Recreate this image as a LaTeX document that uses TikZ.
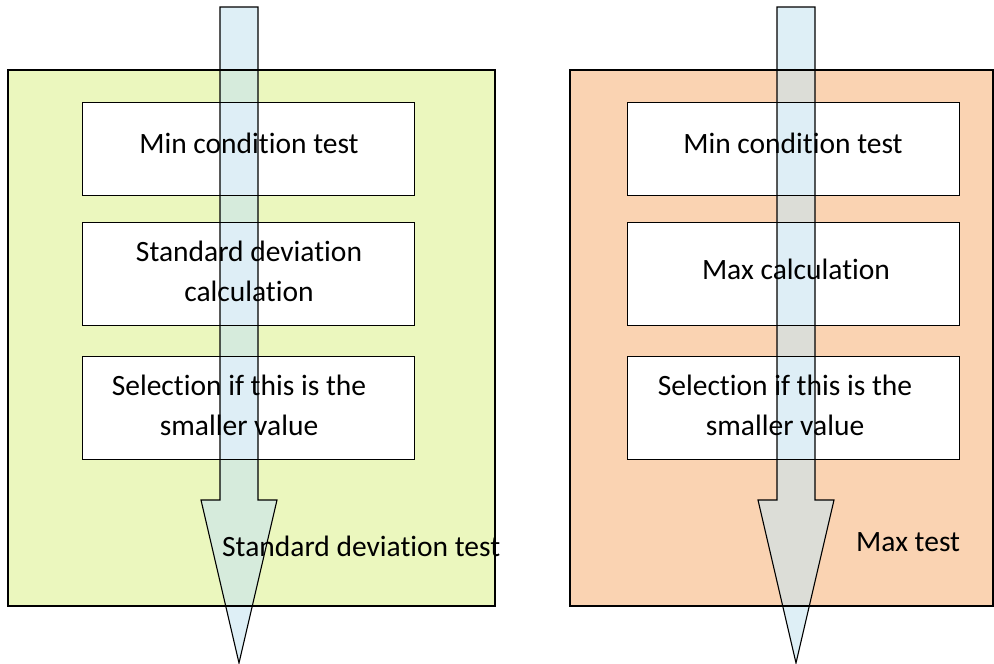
\documentclass[tikz,border=0pt]{standalone}
\usepackage{fontspec}
\setmainfont{Carlito}[Ligatures=NoCommon]
\definecolor{greenbg}{RGB}{235,247,190}
\definecolor{orangebg}{RGB}{250,211,178}
\definecolor{arrowblue}{RGB}{200,228,240}
\begin{document}
\begin{tikzpicture}[x=1pt,y=-1pt,
  panelfill/.style={line width=1.3pt},
  innerbox/.style={fill=white,minimum width=331pt,minimum height=92pt,inner sep=0pt},
  border/.style={draw=black,line width=1.3pt},
  txt/.style={font=\fontsize{29.5}{37}\selectfont,inner sep=0pt,anchor=base},
  lbl/.style={font=\fontsize{29.5}{37}\selectfont,inner sep=0pt,anchor=base west},
  arrowfill/.style={fill=arrowblue,fill opacity=0.6},
  arrowline/.style={draw=black,line width=1.1pt,line join=miter}
]
\useasboundingbox (0,0) rectangle (994,664);
% outer panels
\coordinate (gA) at (8,70); \coordinate (gB) at (495,606);
\coordinate (oA) at (570,70); \coordinate (oB) at (993,606);
\fill[greenbg] (gA) rectangle (gB);
\fill[orangebg] (oA) rectangle (oB);
% left inner boxes
\node[innerbox] (l1) at (248.5,149) {};
\node[innerbox,minimum height=102pt] (l2) at (248.5,274) {};
\node[innerbox,minimum height=102pt] (l3) at (248.5,408) {};
% right inner boxes
\node[innerbox] (r1) at (793.5,149) {};
\node[innerbox,minimum height=102pt] (r2) at (793.5,274) {};
\node[innerbox,minimum height=102pt] (r3) at (793.5,408) {};
% arrow fills
\coordinate (la1) at (220,7); \coordinate (la2) at (258,7); \coordinate (la3) at (258,500);
\coordinate (la4) at (277,500); \coordinate (latip) at (239,663); \coordinate (la6) at (201,500);
\coordinate (la7) at (220,500);
\coordinate (ra1) at (777,7); \coordinate (ra2) at (815,7); \coordinate (ra3) at (815,500);
\coordinate (ra4) at (834,500); \coordinate (ratip) at (796,663); \coordinate (ra6) at (758,500);
\coordinate (ra7) at (777,500);
\path[arrowfill] (la1) -- (la2) -- (la3) -- (la4) -- (latip) -- (la6) -- (la7) -- cycle;
\path[arrowfill] (ra1) -- (ra2) -- (ra3) -- (ra4) -- (ratip) -- (ra6) -- (ra7) -- cycle;
% borders
\draw[border] (gA) rectangle (gB);
\draw[border] (oA) rectangle (oB);
\foreach \b in {l1,l2,l3,r1,r2,r3}
  \draw[border] (\b.north west) rectangle (\b.south east);
% texts left
\node[txt] (l1t) at (249,153) {Min condition test};
\node[txt] (l2ta) at (249,261) {Standard deviation};
\node[txt] (l2tb) at (249,301) {calculation};
\node[txt] (l3ta) at (239,395) {Selection if this is the};
\node[txt] (l3tb) at (239,435) {smaller value};
% texts right
\node[txt] (r1t) at (793,153) {Min condition test};
\node[txt] (r2t) at (796,279) {Max calculation};
\node[txt] (r3ta) at (785,395) {Selection if this is the};
\node[txt] (r3tb) at (785,435) {smaller value};
% panel labels
\node[lbl] (lt) at (222,556) {Standard deviation test};
\node[lbl] (rt) at (856,551) {Max test};
% arrow outlines
\draw[arrowline] (la1) -- (la2) -- (la3) -- (la4) -- (latip) -- (la6) -- (la7) -- cycle;
\draw[arrowline] (ra1) -- (ra2) -- (ra3) -- (ra4) -- (ratip) -- (ra6) -- (ra7) -- cycle;
\end{tikzpicture}
\end{document}
